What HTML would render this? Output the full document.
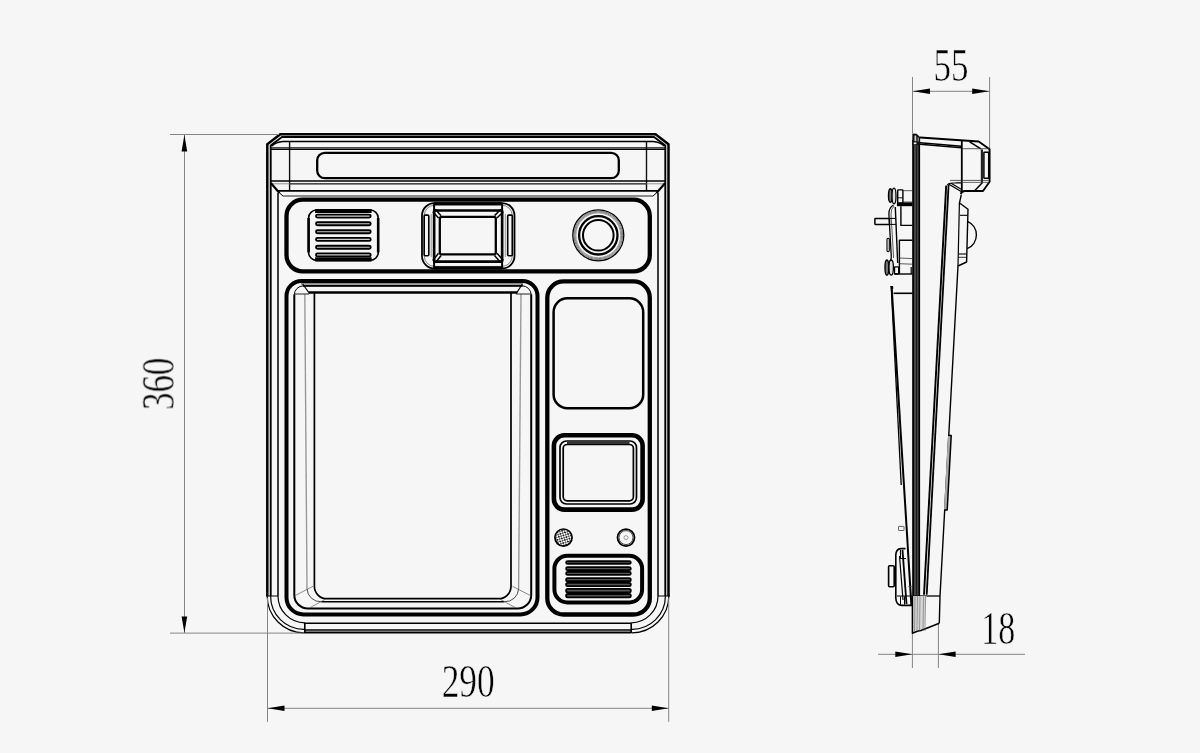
<!DOCTYPE html>
<html><head><meta charset="utf-8"><title>Dimensions</title>
<style>
html,body{margin:0;padding:0;background:#f6f6f6;}
body{width:1200px;height:753px;overflow:hidden;font-family:"Liberation Serif",serif;}
svg{display:block;}
</style></head><body>
<svg width="1200" height="753" viewBox="0 0 1200 753">
<rect width="1200" height="753" fill="#f6f6f6"/>
<g id="front" stroke-linecap="butt" stroke-linejoin="round">
<path d="M267.3,596 V144.3 L280.3,134.35 H655.5 L668.5,144.3 V596" stroke="#000" stroke-width="2.5" fill="none" />
<path d="M270.7,596 V145.6 L282,137 H654 L665.3,145.6 V596" stroke="#000" stroke-width="1.9" fill="none" />
<line x1="304" y1="632.4" x2="631.5" y2="632.4" stroke="#000" stroke-width="2" />
<line x1="304" y1="630" x2="631.5" y2="630" stroke="#000" stroke-width="1.6" />
<line x1="304" y1="623.3" x2="631.5" y2="623.3" stroke="#000" stroke-width="1.4" />
<line x1="304.8" y1="623.3" x2="304.8" y2="633" stroke="#000" stroke-width="1.6" />
<line x1="631.2" y1="623.3" x2="631.2" y2="633" stroke="#000" stroke-width="1.6" />
<path d="M267.2,596 A36.8,36.8 0 0 0 304.0,632.8" stroke="#000" stroke-width="1.2" fill="none" />
<path d="M668.8,596 A36.8,36.8 0 0 1 632.0,632.8" stroke="#000" stroke-width="1.2" fill="none" />
<path d="M270.6,596 A33.4,33.4 0 0 0 304.0,629.4" stroke="#000" stroke-width="1.2" fill="none" />
<path d="M665.4,596 A33.4,33.4 0 0 1 632.0,629.4" stroke="#000" stroke-width="1.2" fill="none" />
<path d="M278,596 A26.8,26.8 0 0 0 304.8,622.8" stroke="#000" stroke-width="1.2" fill="none" />
<path d="M658,596 A26.8,26.8 0 0 1 631.2,622.8" stroke="#000" stroke-width="1.2" fill="none" />
<line x1="266" y1="596" x2="278" y2="596" stroke="#000" stroke-width="1" />
<line x1="658" y1="596" x2="670" y2="596" stroke="#000" stroke-width="1" />
<line x1="278" y1="193" x2="278" y2="596" stroke="#000" stroke-width="1.5" />
<line x1="658" y1="193" x2="658" y2="596" stroke="#000" stroke-width="1.5" />
<path d="M272,146 Q276,142 283,141.5 H653 Q660,142 664,146" stroke="#000" stroke-width="1.4" fill="none" />
<line x1="289.6" y1="141.5" x2="289.6" y2="191" stroke="#111" stroke-width="1.4" />
<line x1="646.5" y1="141.5" x2="646.5" y2="191" stroke="#111" stroke-width="1.4" />
<line x1="271" y1="147.9" x2="665" y2="147.9" stroke="#111" stroke-width="1.4" />
<line x1="271" y1="149.4" x2="665" y2="149.4" stroke="#000" stroke-width="1.3" />
<rect x="317.2" y="152.8" width="301.6" height="25.4" rx="7.5" ry="7.5" stroke="#000" stroke-width="2.3" fill="none"/>
<line x1="271" y1="180.9" x2="665" y2="180.9" stroke="#000" stroke-width="1.5" />
<line x1="289.6" y1="183.8" x2="646.5" y2="183.8" stroke="#333" stroke-width="1.5" />
<line x1="271" y1="183.8" x2="665" y2="183.8" stroke="#666" stroke-width="0.7" />
<line x1="271" y1="183.3" x2="279.5" y2="192.9" stroke="#000" stroke-width="2.2" />
<line x1="279.3" y1="192.7" x2="283.3" y2="196.3" stroke="#000" stroke-width="1" />
<line x1="665" y1="183.3" x2="656.5" y2="192.9" stroke="#000" stroke-width="2.2" />
<line x1="656.7" y1="192.7" x2="652.7" y2="196.3" stroke="#000" stroke-width="1" />
<line x1="283.3" y1="196" x2="652.7" y2="196" stroke="#222" stroke-width="1.2" />
<line x1="278.3" y1="190.8" x2="657.7" y2="190.8" stroke="#000" stroke-width="1.7" />
<rect x="286.5" y="199.7" width="363.3" height="71.7" rx="16.3" ry="16.3" stroke="#000" stroke-width="4.3" fill="none"/>
<path d="M286.5,296 A15,15 0 0 1 301.5,281 H522.5 A15,15 0 0 1 537.5,296 V597.4 A17,17 0 0 1 520.5,614.4 H303.5 A17,17 0 0 1 286.5,597.4 Z" stroke="#000" stroke-width="4.0" fill="none" />
<rect x="547.3" y="281.4" width="102.5" height="333.1" rx="16.3" ry="16.3" stroke="#000" stroke-width="4.3" fill="none"/>
</g>
<g id="detail" stroke-linejoin="round">
<line x1="301" y1="283.9" x2="523" y2="283.9" stroke="#888" stroke-width="1.6" />
<path d="M294.3,294.5 V595 A13.5,13.5 0 0 0 307.8,608.5 H517.7 A13.5,13.5 0 0 0 531.2,595 V294.5" stroke="#000" stroke-width="2.0" fill="none" />
<path d="M294.3,295 A9.2,9.2 0 0 1 303.5,285.8 H522 A9.2,9.2 0 0 1 531.2,295" stroke="#000" stroke-width="1.0" fill="none" />
<line x1="303" y1="285.8" x2="522.5" y2="285.8" stroke="#000" stroke-width="1.8" />
<path d="M304.8,294 L307,588.7" stroke="#999" stroke-width="1.4" fill="none" />
<path d="M521,294 L518.6,588.7" stroke="#999" stroke-width="1.4" fill="none" />
<path d="M307,588.7 A13.5,13.5 0 0 0 321.3,601.7" stroke="#222" stroke-width="0.8" fill="none" />
<path d="M518.6,588.7 A13.5,13.5 0 0 1 504.3,601.7" stroke="#222" stroke-width="0.8" fill="none" />
<path d="M314.4,292.5 V586.3 A12.4,12.4 0 0 0 326.8,598.7 H498.6 A12.4,12.4 0 0 0 511,586.3 V292.5" stroke="#000" stroke-width="1.7" fill="none" />
<line x1="308.7" y1="292.5" x2="517.3" y2="292.5" stroke="#000" stroke-width="2.4" />
<line x1="321.3" y1="601.7" x2="504.3" y2="601.7" stroke="#000" stroke-width="1.4" />
<line x1="302.7" y1="284" x2="309.5" y2="293.5" stroke="#000" stroke-width="1.2" />
<line x1="522.3" y1="284" x2="516.3" y2="293.5" stroke="#000" stroke-width="1.2" />
<line x1="294" y1="294" x2="309" y2="294" stroke="#222" stroke-width="1" />
<line x1="531.3" y1="294" x2="516" y2="294" stroke="#222" stroke-width="1" />
<line x1="293.7" y1="596.3" x2="313" y2="586.3" stroke="#444" stroke-width="0.6" />
<line x1="310" y1="607.7" x2="325.3" y2="599.3" stroke="#444" stroke-width="0.6" />
<line x1="531.8" y1="596.3" x2="512.5" y2="586.3" stroke="#444" stroke-width="0.6" />
<line x1="515.5" y1="607.7" x2="500.2" y2="599.3" stroke="#444" stroke-width="0.6" />
<rect x="308.6" y="210" width="69.6" height="50.4" rx="8" ry="8" stroke="#000" stroke-width="1.6" fill="none"/>
<line x1="308.6" y1="218" x2="308.6" y2="252.4" stroke="#000" stroke-width="2.6" />
<line x1="378.2" y1="218" x2="378.2" y2="252.4" stroke="#000" stroke-width="2.6" />
<line x1="315.1" y1="211" x2="371.6" y2="211" stroke="#000" stroke-width="4.2" />
<line x1="315.1" y1="259.3" x2="371.6" y2="259.3" stroke="#000" stroke-width="4.2" />
<rect x="316" y="214.6" width="54.7" height="3.0" rx="1.5" ry="1.5" stroke="#000" stroke-width="1.9" fill="#ccc"/>
<rect x="316" y="222.3" width="54.7" height="3.0" rx="1.5" ry="1.5" stroke="#000" stroke-width="1.9" fill="#ccc"/>
<rect x="316" y="230.2" width="54.7" height="3.0" rx="1.5" ry="1.5" stroke="#000" stroke-width="1.9" fill="#ccc"/>
<rect x="316" y="237.9" width="54.7" height="3.0" rx="1.5" ry="1.5" stroke="#000" stroke-width="1.9" fill="#ccc"/>
<rect x="316" y="245.7" width="54.7" height="3.0" rx="1.5" ry="1.5" stroke="#000" stroke-width="1.9" fill="#ccc"/>
<rect x="316" y="253.4" width="54.7" height="3.0" rx="1.5" ry="1.5" stroke="#000" stroke-width="1.9" fill="#ccc"/>
<rect x="422" y="203.1" width="92.5" height="65.4" rx="12.5" ry="12.5" stroke="#000" stroke-width="1.8" fill="none"/>
<rect x="424.2" y="205.2" width="88.1" height="61.2" rx="10.5" ry="10.5" stroke="#555" stroke-width="0.7" fill="none"/>
<line x1="434" y1="203.8" x2="502" y2="203.8" stroke="#000" stroke-width="3.0" />
<line x1="434" y1="267.8" x2="502" y2="267.8" stroke="#000" stroke-width="3.0" />
<rect x="434.1" y="210.5" width="68.0" height="51.1" rx="0.5" ry="0.5" stroke="#000" stroke-width="2.6" fill="none"/>
<line x1="434.1" y1="203" x2="434.1" y2="269" stroke="#000" stroke-width="2" />
<line x1="502.1" y1="203" x2="502.1" y2="269" stroke="#000" stroke-width="2" />
<rect x="439.8" y="216.8" width="56.0" height="37.6" rx="2" ry="2" stroke="#000" stroke-width="2.3" fill="none"/>
<line x1="432.84" y1="211.64" x2="438.54" y2="217.94" stroke="#000" stroke-width="1.5" />
<line x1="435.36" y1="209.36" x2="441.06" y2="215.66" stroke="#000" stroke-width="1.5" />
<line x1="500.9" y1="209.3" x2="494.6" y2="215.6" stroke="#000" stroke-width="1.5" />
<line x1="503.3" y1="211.7" x2="497.0" y2="218.0" stroke="#000" stroke-width="1.5" />
<line x1="435.43" y1="262.66" x2="441.13" y2="255.46" stroke="#000" stroke-width="1.5" />
<line x1="432.77" y1="260.54" x2="438.47" y2="253.34" stroke="#000" stroke-width="1.5" />
<line x1="503.38" y1="260.48" x2="497.08" y2="253.28" stroke="#000" stroke-width="1.5" />
<line x1="500.82" y1="262.72" x2="494.52" y2="255.52" stroke="#000" stroke-width="1.5" />
<rect x="424.2" y="215.1" width="4.6" height="40.7" rx="1" ry="1" stroke="#000" stroke-width="1.6" fill="none"/>
<rect x="507.7" y="215.1" width="4.6" height="40.7" rx="1" ry="1" stroke="#000" stroke-width="1.6" fill="none"/>
<line x1="431.2" y1="214" x2="431.2" y2="257" stroke="#777" stroke-width="0.8" />
<line x1="505.3" y1="214" x2="505.3" y2="257" stroke="#777" stroke-width="0.8" />
<circle cx="598.3" cy="235.3" r="25.5" stroke="#000" stroke-width="1.3" fill="none"/>
<circle cx="598.3" cy="235.3" r="24.3" stroke="#444" stroke-width="0.7" fill="none"/>
<circle cx="598.3" cy="235.3" r="23.3" stroke="#555" stroke-width="0.7" fill="none"/>
<circle cx="598.3" cy="235.3" r="22.4" stroke="#777" stroke-width="0.7" fill="none"/>
<circle cx="598.3" cy="235.3" r="19.2" stroke="#000" stroke-width="2.3" fill="none"/>
<circle cx="598.3" cy="235.3" r="15.3" stroke="#000" stroke-width="2.0" fill="none"/>
<rect x="553.6" y="298.3" width="89.6" height="109.9" rx="13.8" ry="13.8" stroke="#000" stroke-width="2.5" fill="none"/>
<rect x="553.9" y="435.2" width="88.7" height="74.4" rx="10.5" ry="10.5" stroke="#000" stroke-width="4.6" fill="none"/>
<rect x="560" y="441" width="76.5" height="63" rx="6.5" ry="6.5" stroke="#000" stroke-width="1.7" fill="none"/>
<rect x="563.2" y="444.5" width="70.2" height="56.3" rx="4" ry="4" stroke="#000" stroke-width="1.7" fill="none"/>
<line x1="567" y1="442.8" x2="629.5" y2="442.8" stroke="#333" stroke-width="2.6" />
<defs><pattern id="mesh" width="3.4" height="3.4" patternUnits="userSpaceOnUse" patternTransform="rotate(28)"><rect width="3.4" height="3.4" fill="#fafafa"/><circle cx="0.85" cy="0.85" r="0.95" fill="#111"/><circle cx="2.55" cy="2.55" r="0.8" fill="#222"/><circle cx="2.6" cy="0.8" r="0.35" fill="#555"/></pattern></defs>
<circle cx="563.5" cy="537.6" r="8.6" stroke="#000" stroke-width="1.7" fill="url(#mesh)"/>
<circle cx="626" cy="537.6" r="8.5" stroke="#000" stroke-width="1.8" fill="none"/>
<circle cx="626" cy="537.6" r="7.0" stroke="#333" stroke-width="0.9" fill="none"/>
<circle cx="626" cy="537.6" r="2" stroke="#666" stroke-width="0.6" fill="none"/>
<rect x="554.4" y="555.7" width="87.7" height="46.7" rx="13" ry="13" stroke="#000" stroke-width="4.0" fill="none"/>
<rect x="566.1" y="561.25" width="64.7" height="2.7" rx="1.6" ry="1.6" stroke="#000" stroke-width="1.8" fill="#555"/>
<rect x="566.1" y="567.15" width="64.7" height="3.05" rx="1.6" ry="1.6" stroke="#000" stroke-width="1.8" fill="#555"/>
<rect x="566.1" y="571.9" width="64.7" height="3.05" rx="1.6" ry="1.6" stroke="#000" stroke-width="1.8" fill="#555"/>
<rect x="566.1" y="578.05" width="64.7" height="3.2" rx="1.6" ry="1.6" stroke="#000" stroke-width="1.8" fill="#555"/>
<rect x="566.1" y="582.95" width="64.7" height="3.2" rx="1.6" ry="1.6" stroke="#000" stroke-width="1.8" fill="#555"/>
<rect x="566.1" y="588.95" width="64.7" height="3.35" rx="1.6" ry="1.6" stroke="#000" stroke-width="1.8" fill="#555"/>
<rect x="566.1" y="594.0" width="64.7" height="3.35" rx="1.6" ry="1.6" stroke="#000" stroke-width="1.8" fill="#555"/>
</g>
<g id="dims">
<line x1="170" y1="134.5" x2="279" y2="134.5" stroke="#858585" stroke-width="1" />
<line x1="170" y1="633.1" x2="304" y2="633.1" stroke="#858585" stroke-width="1" />
<line x1="184.5" y1="134" x2="184.5" y2="633" stroke="#858585" stroke-width="1" />
<polygon points="184.4,134.8 181.6,151.6 187.2,151.6" fill="#000"/>
<polygon points="184.4,632.8 181.6,616.4 187.2,616.4" fill="#000"/>
<line x1="267.5" y1="598" x2="267.5" y2="721.8" stroke="#858585" stroke-width="1" />
<line x1="668.7" y1="598" x2="668.7" y2="721.8" stroke="#858585" stroke-width="1" />
<line x1="267.5" y1="708.3" x2="668.8" y2="708.3" stroke="#858585" stroke-width="1" />
<polygon points="267.8,708.3 284.5,705.5 284.5,711.1" fill="#000"/>
<polygon points="668.5,708.3 651.8,705.5 651.8,711.1" fill="#000"/>
<line x1="912.5" y1="77" x2="912.5" y2="133" stroke="#858585" stroke-width="1" />
<line x1="989.6" y1="77" x2="989.6" y2="150" stroke="#858585" stroke-width="1" />
<line x1="912.5" y1="91.3" x2="989.6" y2="91.3" stroke="#858585" stroke-width="1" />
<polygon points="912.8,91.3 930,88.5 930,94.1" fill="#000"/>
<polygon points="989.3,91.3 972.2,88.5 972.2,94.1" fill="#000"/>
<line x1="912.4" y1="633" x2="912.4" y2="668" stroke="#858585" stroke-width="1" />
<line x1="938.4" y1="623" x2="938.4" y2="668" stroke="#858585" stroke-width="1" />
<line x1="878" y1="654.3" x2="1025" y2="654.3" stroke="#858585" stroke-width="1" />
<polygon points="912.2,654.3 895.3,651.5 895.3,657.1" fill="#000"/>
<polygon points="938.6,654.3 955.6,651.5 955.6,657.1" fill="#000"/>
</g>
<g id="labels" opacity="0.999">
<text x="468.2" y="697.2" text-anchor="middle" font-family="'Liberation Serif',serif" font-size="46" textLength="53" lengthAdjust="spacingAndGlyphs" fill="#000" stroke="#f6f6f6" stroke-width="0.55">290</text>
<text x="951" y="81" text-anchor="middle" font-family="'Liberation Serif',serif" font-size="46" textLength="35" lengthAdjust="spacingAndGlyphs" fill="#000" stroke="#f6f6f6" stroke-width="0.55">55</text>
<text x="998.3" y="643.9" text-anchor="middle" font-family="'Liberation Serif',serif" font-size="46" textLength="34" lengthAdjust="spacingAndGlyphs" fill="#000" stroke="#f6f6f6" stroke-width="0.55">18</text>
<text x="173.6" y="383.8" text-anchor="middle" font-family="'Liberation Serif',serif" font-size="46" textLength="52" lengthAdjust="spacingAndGlyphs" fill="#000" stroke="#f6f6f6" stroke-width="0.55" transform="rotate(-90 173.6 383.8)">360</text>
</g>
<g id="side" stroke-linejoin="round" stroke-linecap="butt">
<rect x="912.4" y="140" width="7.6" height="455.8" fill="#444" stroke="none"/>
<line x1="913.1" y1="140" x2="913.1" y2="596" stroke="#000" stroke-width="1.6" />
<line x1="919.3" y1="140" x2="919.3" y2="596" stroke="#000" stroke-width="1.6" />
<line x1="916.6" y1="142" x2="916.6" y2="596" stroke="#111" stroke-width="0.8" />
<polygon points="912.3,133.4 916.6,133.8 920.1,137 920.1,145 912.3,145" fill="#111"/>
<rect x="914.5" y="135.6" width="1.8" height="5.6" fill="#ccc"/>
<rect x="917.6" y="137.5" width="1.2" height="4" fill="#999"/>
<rect x="913.8" y="142.4" width="2.6" height="1.8" fill="#eee"/>
<path d="M920,137.5 L978.7,141.5 L989.6,149.2 V181.8 L983,191 H964.7 Q961.5,191.2 960.8,194" stroke="#000" stroke-width="1.9" fill="none" />
<path d="M920,142.8 L961.6,146.2" stroke="#000" stroke-width="1.5" fill="none" />
<path d="M920,144.3 L961.6,147.8" stroke="#000" stroke-width="1.5" fill="none" />
<line x1="961.8" y1="141" x2="961.8" y2="192.5" stroke="#000" stroke-width="1.8" />
<path d="M969.7,141.9 L980.9,148.9" stroke="#000" stroke-width="1.7" fill="none" />
<line x1="962" y1="148.7" x2="989.3" y2="148.7" stroke="#333" stroke-width="0.8" />
<rect x="983.9" y="152.2" width="4.8" height="26.0" rx="0.5" ry="0.5" stroke="#000" stroke-width="1.5" fill="none"/>
<line x1="981.9" y1="149.4" x2="981.9" y2="182" stroke="#222" stroke-width="2.2" />
<line x1="950" y1="180.4" x2="988.7" y2="180.4" stroke="#333" stroke-width="0.8" />
<line x1="956" y1="182.4" x2="988.7" y2="182.4" stroke="#444" stroke-width="0.8" />
<line x1="982.5" y1="182.4" x2="974.9" y2="190.4" stroke="#000" stroke-width="1.5" />
<path d="M961.7,183 H953 Q948.5,183 947.3,185" stroke="#000" stroke-width="1.2" fill="none" />
<path d="M948.5,184 L962,192" stroke="#000" stroke-width="1.3" fill="none" />
<path d="M951,183.2 L961.7,189.5" stroke="#000" stroke-width="1.1" fill="none" />
<path d="M946.2,185.5 L924,594.7" stroke="#000" stroke-width="1.9" fill="none" />
<path d="M948.6,185 L926.7,594.7" stroke="#000" stroke-width="1.8" fill="none" />
<path d="M961.3,194.7 L959.4,203.3 L961.3,204.2 L968,209.3 L966.6,262 L958,266 L940,596 L939.3,623.3" stroke="#000" stroke-width="1.4" fill="none" />
<path d="M959.4,203.3 L958,266" stroke="#000" stroke-width="1.2" fill="none" />
<line x1="960" y1="215.3" x2="967.6" y2="215.3" stroke="#000" stroke-width="1.1" />
<line x1="958.7" y1="254" x2="966.8" y2="254" stroke="#000" stroke-width="1.1" />
<line x1="958.6" y1="257.3" x2="966.7" y2="257.3" stroke="#000" stroke-width="0.8" />
<path d="M967.5,221.3 A14.9,14.9 0 0 1 967.2,248.7" stroke="#000" stroke-width="1.4" fill="none" />
<path d="M948,435.3 L951.2,435.6 L947.2,510 L944,510" stroke="#000" stroke-width="1.5" fill="#aaa" />
<line x1="912.4" y1="596" x2="940" y2="596" stroke="#000" stroke-width="1.3" />
<path d="M912.4,596 H926.5 L924.5,629 L917.3,631.3 L912.4,633.3 Z" fill="#d6d6d6" stroke="none"/>
<path d="M912.4,596 V633.3 L917.3,631.3 L921,630.5 L939.3,623.3" stroke="#000" stroke-width="1.5" fill="none" />
<line x1="915" y1="596" x2="914.5" y2="631" stroke="#666" stroke-width="0.6" />
<line x1="917.5" y1="596" x2="917.0" y2="631" stroke="#666" stroke-width="0.6" />
<line x1="920" y1="596" x2="919.5" y2="631" stroke="#666" stroke-width="0.6" />
<line x1="923.5" y1="596" x2="923.0" y2="631" stroke="#666" stroke-width="0.6" />
<line x1="925.5" y1="596" x2="925.0" y2="631" stroke="#666" stroke-width="0.6" />
<ellipse cx="890.4" cy="195.6" rx="1.9" ry="6.8" fill="#777" stroke="#000" stroke-width="1.4"/>
<ellipse cx="894" cy="196" rx="2" ry="7.9" fill="#ddd" stroke="#000" stroke-width="1.3"/>
<rect x="897.7" y="189.9" width="5.2" height="13.2" rx="0.5" ry="0.5" stroke="#000" stroke-width="1.4" fill="none"/>
<line x1="897.7" y1="197.8" x2="902.9" y2="197.8" stroke="#000" stroke-width="0.9" />
<line x1="902.6" y1="190.7" x2="912.4" y2="190.7" stroke="#333" stroke-width="0.8" />
<line x1="902.6" y1="202" x2="912.4" y2="202" stroke="#333" stroke-width="0.8" />
<line x1="896.9" y1="204.3" x2="912.4" y2="204.3" stroke="#000" stroke-width="3.8" />
<path d="M893.5,205 Q888.6,208 888.9,214 L891.3,256.5 Q891.6,260 889.5,262" stroke="#000" stroke-width="1.3" fill="none" />
<path d="M895.3,207 L897.7,263" stroke="#000" stroke-width="1.4" fill="none" />
<path d="M894,206 Q890.8,209 891,214 L893.6,258" stroke="#333" stroke-width="0.8" fill="none" />
<rect x="874.9" y="218.4" width="14.6" height="6.0" rx="0.4" ry="0.4" stroke="#000" stroke-width="1.5" fill="none"/>
<line x1="889.5" y1="218.4" x2="896" y2="218.4" stroke="#000" stroke-width="1" />
<line x1="889.5" y1="224.4" x2="896" y2="224.4" stroke="#000" stroke-width="1" />
<path d="M900.9,206.3 V225.4 H912.4" stroke="#000" stroke-width="1.4" fill="none" />
<path d="M899.4,274 V240.2 H912.4" stroke="#000" stroke-width="1.4" fill="none" />
<rect x="887" y="238.2" width="2.3" height="13.5" rx="1.1" ry="1.1" stroke="#000" stroke-width="1.1" fill="none"/>
<ellipse cx="886.9" cy="267.6" rx="1.9" ry="7.6" fill="#777" stroke="#000" stroke-width="1.4"/>
<ellipse cx="891.2" cy="267.6" rx="2.2" ry="7.6" fill="#ddd" stroke="#000" stroke-width="1.3"/>
<rect x="894.5" y="266.9" width="4.2" height="7.1" rx="0.4" ry="0.4" stroke="#000" stroke-width="1.4" fill="none"/>
<line x1="894.5" y1="274" x2="912.4" y2="274" stroke="#000" stroke-width="1.4" />
<line x1="899.4" y1="258" x2="912.4" y2="258.6" stroke="#333" stroke-width="0.8" />
<line x1="899.4" y1="263.7" x2="912.4" y2="264.2" stroke="#333" stroke-width="0.8" />
<line x1="911.2" y1="266.9" x2="911.2" y2="274" stroke="#000" stroke-width="1.2" />
<path d="M890.6,286.6 H892.6 V289" stroke="#000" stroke-width="1.2" fill="none" />
<path d="M891.6,286 L911.4,605.3" stroke="#000" stroke-width="2.0" fill="none" />
<path d="M891.2,286 L901.2,485" stroke="#000" stroke-width="1.3" fill="none" />
<line x1="893.6" y1="293.3" x2="912.4" y2="293.3" stroke="#000" stroke-width="1.6" />
<rect x="898.5" y="526.4" width="5.5" height="4.1" rx="0.3" ry="0.3" stroke="#555" stroke-width="0.9" fill="none"/>
<path d="M905.5,548.6 H901 Q896,549 895.8,555 V598 Q896,604.8 901.5,605.4 H912.4" stroke="#000" stroke-width="1.6" fill="none" />
<path d="M900.5,550 V558.5 H906" stroke="#000" stroke-width="1.1" fill="none" />
<path d="M897,596 H912" stroke="#000" stroke-width="1" fill="none" />
<path d="M900.5,596.5 V604.5" stroke="#000" stroke-width="1" fill="none" />
<path d="M904.5,596.5 V604.5" stroke="#000" stroke-width="1" fill="none" />
<rect x="888.6" y="565.8" width="5.6" height="21.0" rx="1" ry="1" stroke="#000" stroke-width="1.6" fill="none"/>
<path d="M902.5,550 L906.5,604" stroke="#000" stroke-width="1.8" fill="none" />
<path d="M899.5,556 L903,600" stroke="#000" stroke-width="1.2" fill="none" />
<line x1="908" y1="586.6" x2="912.4" y2="586.6" stroke="#555" stroke-width="0.7" />
</g>
</svg>
</body></html>
